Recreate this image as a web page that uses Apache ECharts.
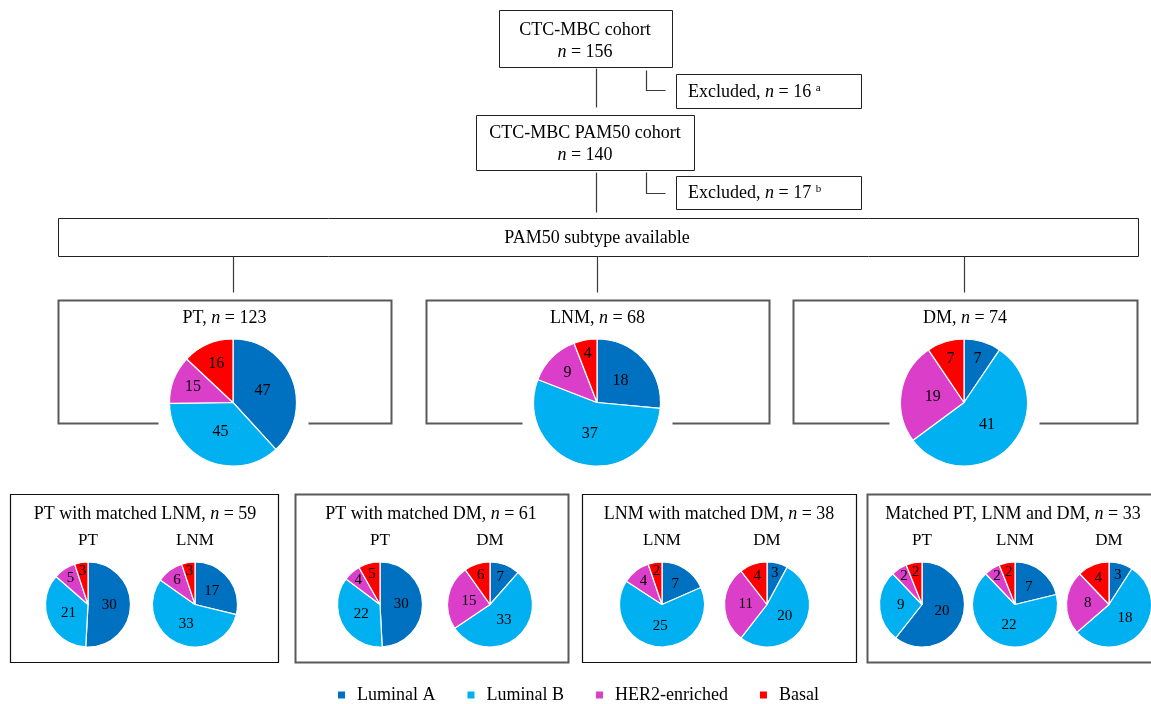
<!DOCTYPE html>
<html>
<head>
<meta charset="utf-8">
<title>PAM50 subtypes in the CTC-MBC cohort</title>
<script src="https://cdn.jsdelivr.net/npm/echarts@6/dist/echarts.min.js"></script>
<style>
  html, body { margin: 0; padding: 0; background: #fff; }
  #chart { width: 1151px; height: 704px; }
</style>
</head>
<body>
<div id="chart"></div>
<script>
// PAM50 subtypes and their colours
const subtypes = ['Luminal A', 'Luminal B', 'HER2-enriched', 'Basal'];
const subtypeColors = ['#0070C0', '#00B0F0', '#DB3EC8', '#FF0000'];

// Cohort counts in the flow
const cohortTotal = 156;
const excludedFirst = 16;
const pam50Cohort = 140;
const excludedSecond = 17;

// Subtype counts per tissue (Luminal A, Luminal B, HER2-enriched, Basal)
const ptAll = [47, 45, 15, 16];
const lnmAll = [18, 37, 9, 4];
const dmAll = [7, 41, 19, 7];

const ptLnmPT = [30, 21, 5, 3];
const ptLnmLNM = [17, 33, 6, 3];

const ptDmPT = [30, 22, 4, 5];
const ptDmDM = [7, 33, 15, 6];

const lnmDmLNM = [7, 25, 4, 2];
const lnmDmDM = [3, 20, 11, 4];

const triPT = [20, 9, 2, 2];
const triLNM = [7, 22, 2, 2];
const triDM = [3, 18, 8, 4];

const FONT = '"Liberation Serif", "Times New Roman", Times, serif';
const sum = a => a.reduce((s, v) => s + v, 0);

// ---------- drawing helpers for the flow diagram ----------
const graphics = [];
const px = v => Math.round(v) + 0.5;

function box(x, y, w, h, stroke, lw) {
  graphics.push({
    type: 'rect', silent: true,
    shape: { x: px(x), y: px(y), width: Math.round(w), height: Math.round(h) },
    style: { fill: 'none', stroke: stroke, lineWidth: lw }
  });
}
function path(points, stroke, lw) {
  graphics.push({
    type: 'polyline', silent: true,
    shape: { points: points.map(p => [px(p[0]), px(p[1])]) },
    style: { fill: 'none', stroke: stroke, lineWidth: lw }
  });
}
function label(x, y, text, size, align) {
  graphics.push({
    type: 'text', silent: true, x: x, y: y,
    style: {
      text: text, fill: '#000',
      fontFamily: FONT, fontSize: size,
      align: align || 'center', verticalAlign: 'middle',
      rich: {
        i: { fontFamily: FONT, fontSize: size, fontStyle: 'italic', fill: '#000' },
        sup: { fontFamily: FONT, fontSize: Math.round(size * 0.62), fill: '#000', verticalAlign: 'top' }
      }
    }
  });
}

const LINE = '#3a3a3a';
const GREY = '#5a5a5a';

// Cohort boxes and exclusions
box(499, 10, 173, 57, '#222', 1);
label(585, 30, 'CTC-MBC cohort', 18);
label(585, 52, '{i|n} = ' + cohortTotal, 18);
path([[596, 68], [596, 107]], LINE, 1.2);
path([[646, 70], [646, 90], [665, 90]], LINE, 1.2);
box(676, 74, 185, 34, '#222', 1);
label(688, 92, 'Excluded, {i|n} = ' + excludedFirst + ' {sup|a}', 18, 'left');

box(476, 115, 218, 55, '#222', 1);
label(585, 133, 'CTC-MBC PAM50 cohort', 18);
label(585, 155, '{i|n} = ' + pam50Cohort, 18);
path([[596, 172], [596, 212]], LINE, 1.2);
path([[646, 172], [646, 193], [665, 193]], LINE, 1.2);
box(676, 176, 185, 33, '#222', 1);
label(688, 193, 'Excluded, {i|n} = ' + excludedSecond + ' {sup|b}', 18, 'left');

box(58, 218, 1080, 38, '#222', 1);
label(597, 238, 'PAM50 subtype available', 18);

// ---------- pies ----------
const series = [];

// label sits deeper toward the rim for narrow slices so the number fits
function labelPlacer(values, cx, cy, r) {
  const total = sum(values);
  return function (p) {
    const before = sum(values.slice(0, p.dataIndex));
    const v = values[p.dataIndex];
    const share = v / total;
    const mid = (90 - 360 * (before + v / 2) / total) * Math.PI / 180;
    const f = Math.max(0.5, 0.89 - 1.75 * share);
    return {
      x: cx + f * r * Math.cos(mid),
      y: cy - f * r * Math.sin(mid),
      align: 'center', verticalAlign: 'middle'
    };
  };
}

function pie(values, cx, cy, r, fontSize) {
  series.push({
    type: 'pie',
    center: [cx, cy],
    radius: r,
    startAngle: 90,
    clockwise: true,
    avoidLabelOverlap: false,
    minShowLabelAngle: 0,
    silent: true,
    animation: false,
    itemStyle: { borderColor: '#fff', borderWidth: 1.2 },
    label: {
      show: true, position: 'inside', formatter: '{c}',
      color: '#000', fontFamily: FONT, fontSize: fontSize
    },
    labelLine: { show: false },
    labelLayout: labelPlacer(values, cx, cy, r),
    emphasis: { disabled: true },
    data: values.map((v, i) => ({
      name: subtypes[i], value: v,
      itemStyle: { color: subtypeColors[i] }
    }))
  });
}

// Top row: one panel per tissue, pie overlapping the lower edge
function tissuePanel(left, right, cx, title, values) {
  const top = 300, bottom = 423, r = 63.5, cy = 402.5, gap = 75;
  path([[cx, 256], [cx, 292]], LINE, 1.2);
  path([[cx - gap, bottom], [left, bottom], [left, top], [right, top],
        [right, bottom], [cx + gap, bottom]], GREY, 2);
  label((left + right) / 2, 318, title + ', {i|n} = ' + sum(values), 18);
  pie(values, cx, cy, r, 16);
}
tissuePanel(58, 391, 233, 'PT', ptAll);
tissuePanel(426, 769, 597, 'LNM', lnmAll);
tissuePanel(793, 1137, 964, 'DM', dmAll);

// Bottom row: matched-sample panels
function matchedPanel(left, right, stroke, lw, title, pies) {
  box(left, 494, right - left, 168, stroke, lw);
  label(pies.titleX, 514, title + ', {i|n} = ' + sum(pies.items[0].values), 18);
  pies.items.forEach(p => {
    label(p.cx, 541, p.name, 17);
    pie(p.values, p.cx, 604.5, 42.5, 15);
  });
}
matchedPanel(10, 278, '#111', 1.2, 'PT with matched LNM', {
  titleX: 145,
  items: [{ name: 'PT', cx: 88, values: ptLnmPT }, { name: 'LNM', cx: 195, values: ptLnmLNM }]
});
matchedPanel(295, 568, GREY, 2, 'PT with matched DM', {
  titleX: 431,
  items: [{ name: 'PT', cx: 380, values: ptDmPT }, { name: 'DM', cx: 490, values: ptDmDM }]
});
matchedPanel(582, 856, '#111', 1.2, 'LNM with matched DM', {
  titleX: 719,
  items: [{ name: 'LNM', cx: 662, values: lnmDmLNM }, { name: 'DM', cx: 767, values: lnmDmDM }]
});
matchedPanel(867, 1170, GREY, 2, 'Matched PT, LNM and DM', {
  titleX: 1013,
  items: [{ name: 'PT', cx: 922, values: triPT }, { name: 'LNM', cx: 1015, values: triLNM },
          { name: 'DM', cx: 1109, values: triDM }]
});

const chart = echarts.init(document.getElementById('chart'), null, { renderer: 'canvas' });
chart.setOption({
  backgroundColor: '#fff',
  animation: false,
  textStyle: { fontFamily: FONT },
  legend: {
    data: subtypes,
    selectedMode: false,
    icon: 'rect',
    itemWidth: 9,
    itemHeight: 9,
    itemGap: 30,
    left: 336,
    top: 686,
    padding: 0,
    textStyle: { fontFamily: FONT, fontSize: 18, color: '#000', padding: [0, 0, 0, 6] }
  },
  graphic: { elements: graphics },
  series: series
});
</script>
</body>
</html>
